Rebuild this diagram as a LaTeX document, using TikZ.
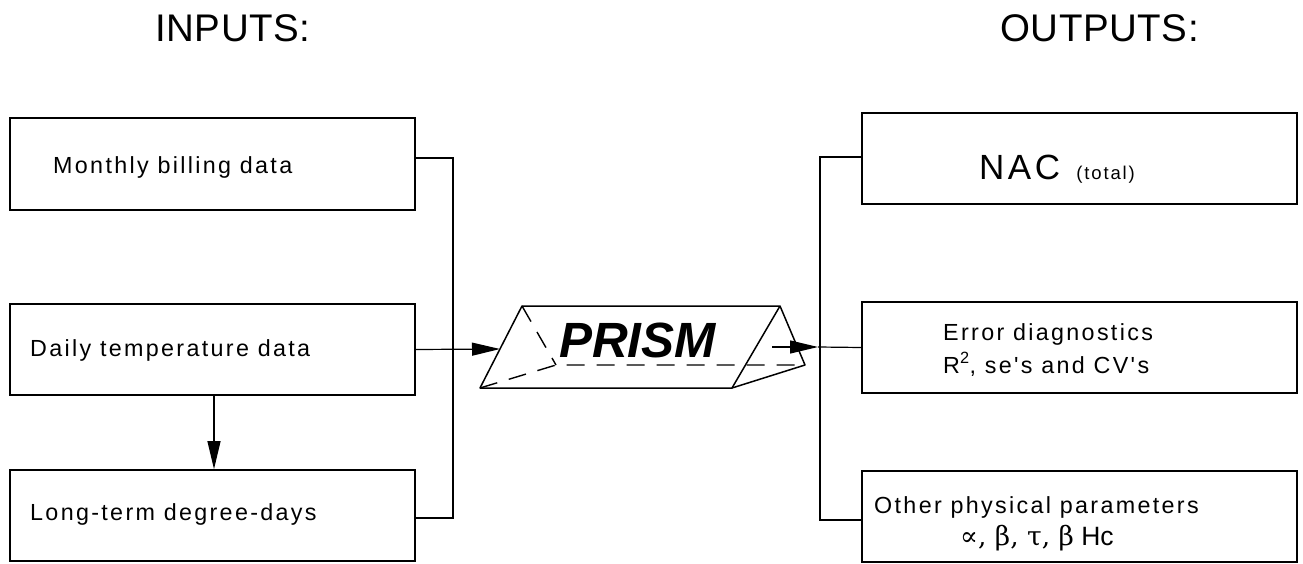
\documentclass[tikz,border=0pt]{standalone}
\usepackage{fontspec}
\setmainfont{Liberation Sans}
\newfontfamily\labelfont[LetterSpace=10]{Liberation Sans}
\newfontfamily\headfont[LetterSpace=1.5]{Liberation Sans}
\newfontfamily\greekfont{DejaVu Serif}
\usetikzlibrary{arrows.meta}

\begin{document}
\begin{tikzpicture}[x=1pt,y=-1pt,
  box/.style={draw, line width=1.7pt, inner sep=0pt},
  inbox/.style={box, minimum width=405pt, minimum height=91pt},
  outbox/.style={box, minimum width=435pt, minimum height=91pt},
  txt/.style={anchor=base west, inner sep=0pt, font=\labelfont\fontsize{23.3}{28}\selectfont},
  head/.style={anchor=base west, inner sep=0pt, font=\headfont\fontsize{38.5}{44}\selectfont},
  wire/.style={line width=1.2pt},
  arr/.style={wire, -{Triangle[length=28pt,width=13pt]}},
  edge/.style={line width=1.5pt, line join=round},
  hidden/.style={line width=1.4pt, dash pattern=on 18pt off 12pt}
]
\useasboundingbox (0,0) rectangle (1303,564);

% headings
\node[head] (hin) at (155,42) {INPUTS:};
\node[head] (hout) at (1000,42) {OUTPUTS:};

% input boxes
\node[inbox, minimum height=92pt] (mb) at (212.5,164) {};
\node[inbox] (dt) at (212.5,349.5) {};
\node[inbox] (ld) at (212.5,515.5) {};
\node[txt] (mbt) at (53,173.3) {Monthly billing data};
\node[txt] (dtt) at (30,356.7) {Daily temperature data};
\node[txt] (ldt) at (30,520) {Long-term degree-days};

% output boxes
\node[outbox] (nac) at (1079.5,158.5) {};
\node[outbox] (err) at (1079.5,347.5) {};
\node[outbox] (oth) at (1079.5,516.5) {};
\node[anchor=base west, inner sep=0pt, font=\labelfont\fontsize{35}{40}\selectfont] (nact) at (979,180)
  {NAC {\fontsize{18.5}{20}\selectfont\,(total)}};
\node[txt] (errt1) at (943,340) {Error diagnostics};
\node[txt] (errt2) at (943,373) {R\textsuperscript{2}, se's and CV's};
\node[txt] (otht1) at (874,513) {Other physical parameters};
\node[anchor=base west, inner sep=0pt, font=\fontsize{26.5}{30}\selectfont] (otht2) at (960,545)
  {{\greekfont ∝, β, τ, β} Hc};

% the prism
\coordinate (pa) at (522,306);
\coordinate (pb) at (780,306);
\coordinate (pc) at (480,388);
\coordinate (pd) at (732,388);
\coordinate (pe) at (805,365);
\coordinate (pf) at (556,365);
\draw[edge] (pc) -- (pa) -- (pb) -- (pd) -- cycle;
\draw[edge] (pb) -- (pe) -- (pd);
\draw[hidden] (pa) -- (pf);
\draw[hidden] (pc) -- (pf) -- (pe);
\node[anchor=base west, inner sep=0pt, font=\fontsize{49.5}{56}\selectfont\bfseries\itshape] (prism) at (559,357) {PRISM};

% inputs gathered into the prism
\coordinate (jt) at (453,158);
\coordinate (jb) at (453,518);
\coordinate (pin) at (500,349);
\draw[wire] ([yshift=6pt]mb.east) -- (jt) -- (jb) -- ([yshift=-2.5pt]ld.east);
\draw[arr] (dt.east) -- (pin);
\coordinate (dx) at (214,0);
\draw[arr] (dt.south -| dx) -- (ld.north -| dx);

% outputs leaving the prism
\coordinate (pout) at (772,347);
\coordinate (jr) at (818,347);
\coordinate (rt) at (820,157);
\coordinate (rb) at (820,520);
\draw[arr] (pout) -- (jr);
\draw[wire] (jr) -- (err.west);
\draw[wire] ([yshift=1.5pt]nac.west) -- (rt) -- (rb) -- ([yshift=-3.5pt]oth.west);
\end{tikzpicture}
\end{document}
